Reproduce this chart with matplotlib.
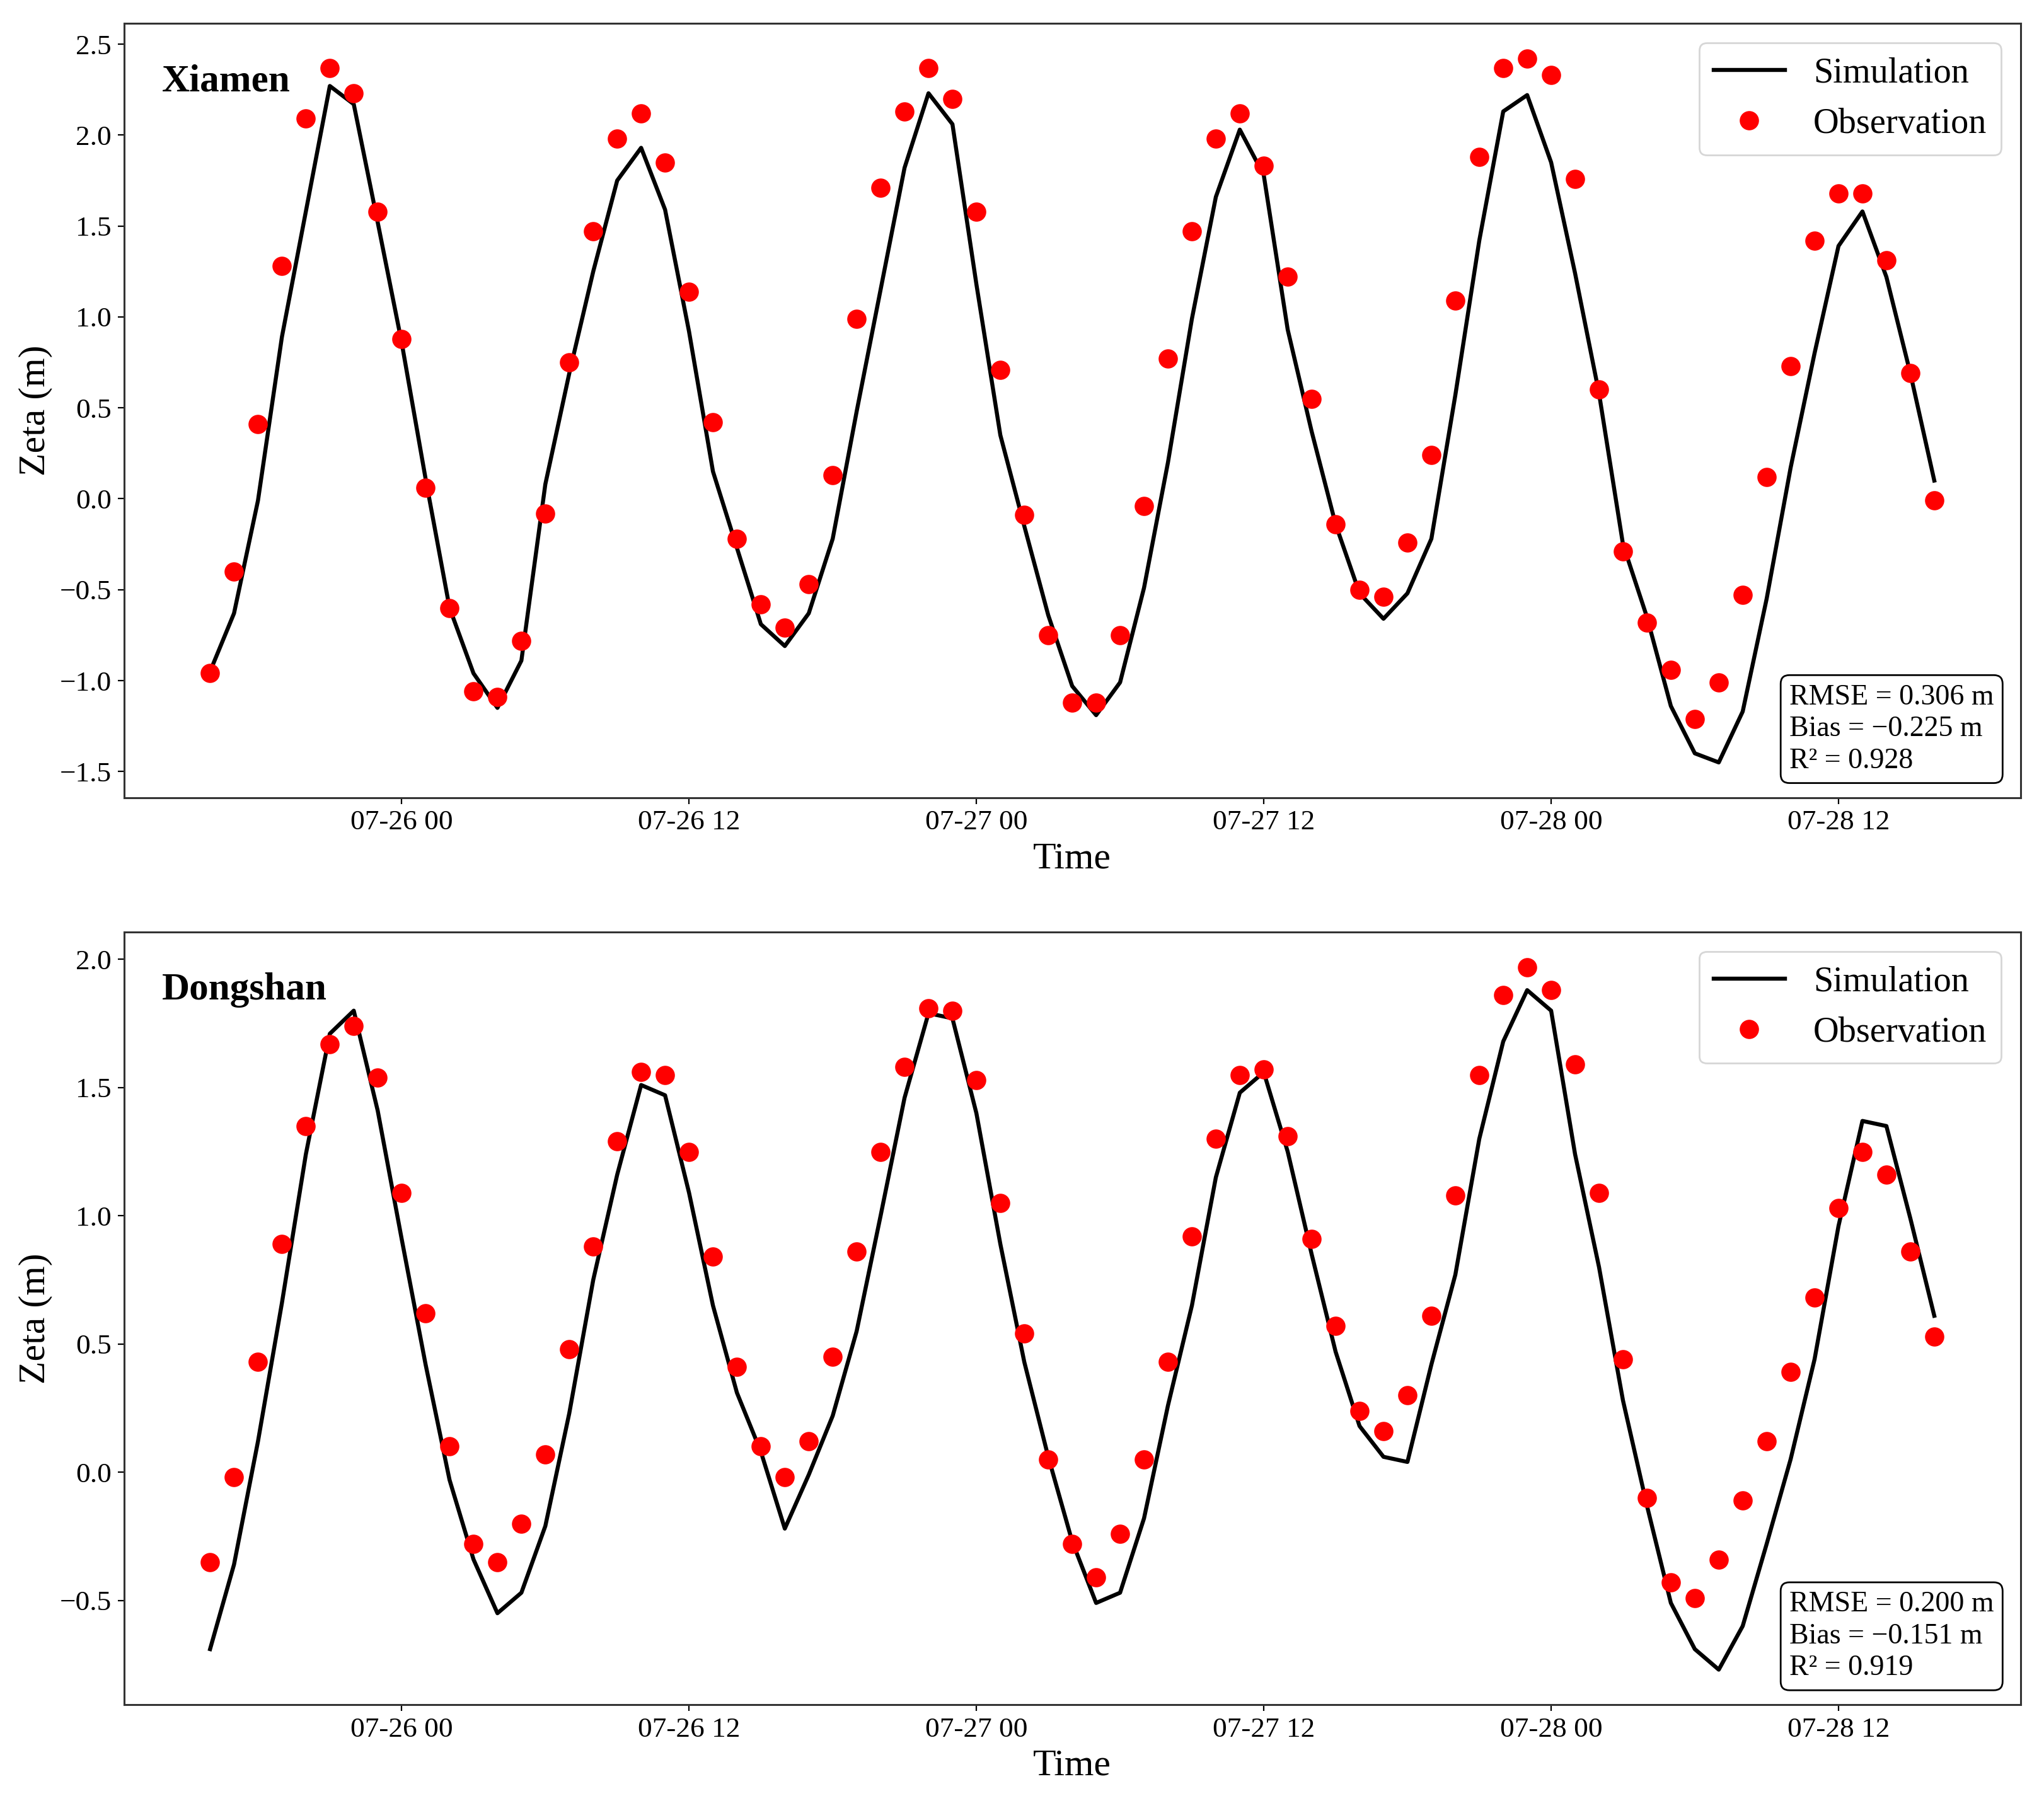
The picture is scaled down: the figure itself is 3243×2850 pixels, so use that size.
import numpy as np
import pandas as pd
import matplotlib
matplotlib.use("Agg")
import matplotlib.pyplot as plt
import matplotlib.dates as mdates

plt.rcParams['font.family'] = ['Liberation Serif', 'DejaVu Serif']
plt.rcParams['axes.unicode_minus'] = True

# ---- data ----
start_time = "2023-07-25 16:00"
n_hours = 73

xiamen_obs = [-0.96, -0.40, 0.41, 1.28, 2.09, 2.37, 2.23, 1.58, 0.88, 0.06,
              -0.60, -1.06, -1.09, -0.78, -0.08, 0.75, 1.47, 1.98, 2.12, 1.85,
              1.14, 0.42, -0.22, -0.58, -0.71, -0.47, 0.13, 0.99, 1.71, 2.13,
              2.37, 2.20, 1.58, 0.71, -0.09, -0.75, -1.12, -1.12, -0.75, -0.04,
              0.77, 1.47, 1.98, 2.12, 1.83, 1.22, 0.55, -0.14, -0.50, -0.54,
              -0.24, 0.24, 1.09, 1.88, 2.37, 2.42, 2.33, 1.76, 0.60, -0.29,
              -0.68, -0.94, -1.21, -1.01, -0.53, 0.12, 0.73, 1.42, 1.68, 1.68,
              1.31, 0.69, -0.01]
xiamen_sim = [-0.95, -0.63, -0.01, 0.89, 1.58, 2.27, 2.17, 1.52, 0.86, 0.11,
              -0.60, -0.96, -1.15, -0.89, 0.08, 0.69, 1.25, 1.75, 1.93, 1.59,
              0.92, 0.15, -0.27, -0.69, -0.81, -0.63, -0.22, 0.48, 1.15, 1.82,
              2.23, 2.06, 1.18, 0.35, -0.15, -0.64, -1.03, -1.19, -1.01, -0.49,
              0.20, 0.99, 1.66, 2.03, 1.78, 0.93, 0.37, -0.14, -0.52, -0.66,
              -0.52, -0.22, 0.57, 1.42, 2.13, 2.22, 1.85, 1.24, 0.58, -0.25,
              -0.65, -1.14, -1.40, -1.45, -1.17, -0.55, 0.17, 0.80, 1.39, 1.58,
              1.22, 0.69, 0.10]
dongshan_obs = [-0.35, -0.02, 0.43, 0.89, 1.35, 1.67, 1.74, 1.54, 1.09, 0.62,
                0.10, -0.28, -0.35, -0.20, 0.07, 0.48, 0.88, 1.29, 1.56, 1.55,
                1.25, 0.84, 0.41, 0.10, -0.02, 0.12, 0.45, 0.86, 1.25, 1.58,
                1.81, 1.80, 1.53, 1.05, 0.54, 0.05, -0.28, -0.41, -0.24, 0.05,
                0.43, 0.92, 1.30, 1.55, 1.57, 1.31, 0.91, 0.57, 0.24, 0.16,
                0.30, 0.61, 1.08, 1.55, 1.86, 1.97, 1.88, 1.59, 1.09, 0.44,
                -0.10, -0.43, -0.49, -0.34, -0.11, 0.12, 0.39, 0.68, 1.03, 1.25,
                1.16, 0.86, 0.53]
dongshan_sim = [-0.69, -0.36, 0.12, 0.66, 1.24, 1.71, 1.80, 1.41, 0.91, 0.42,
                -0.03, -0.34, -0.55, -0.47, -0.21, 0.23, 0.75, 1.16, 1.51, 1.47,
                1.09, 0.65, 0.31, 0.08, -0.22, -0.01, 0.22, 0.55, 1.00, 1.46,
                1.79, 1.77, 1.40, 0.89, 0.43, 0.06, -0.27, -0.51, -0.47, -0.18,
                0.26, 0.65, 1.15, 1.48, 1.56, 1.25, 0.85, 0.47, 0.18, 0.06,
                0.04, 0.42, 0.77, 1.30, 1.68, 1.88, 1.80, 1.24, 0.80, 0.28,
                -0.13, -0.51, -0.69, -0.77, -0.60, -0.28, 0.05, 0.44, 0.96, 1.37,
                1.35, 0.99, 0.61]

stations = ["Xiamen", "Dongshan"]
stats_text = ["RMSE = 0.306 m\nBias = \u22120.225 m\nR\u00b2 = 0.928",
              "RMSE = 0.200 m\nBias = \u22120.151 m\nR\u00b2 = 0.919"]

times = pd.date_range(start_time, periods=n_hours, freq="h")

fig = plt.figure(figsize=(16.215, 14.25), dpi=200)
positions = [[0.0606, 0.5559, 0.9279, 0.4310],
             [0.0606, 0.0508, 0.9279, 0.4303]]
sims = [xiamen_sim, dongshan_sim]
obss = [xiamen_obs, dongshan_obs]

for k in range(2):
    ax = fig.add_axes(positions[k])
    ax.plot(times, sims[k], color='black', lw=2.3, label='Simulation')
    ax.plot(times, obss[k], 'o', color='red', ms=10, label='Observation')
    ax.xaxis.set_major_locator(mdates.HourLocator(byhour=[0, 12]))
    ax.xaxis.set_major_formatter(mdates.DateFormatter('%m-%d %H'))
    ax.yaxis.set_major_locator(plt.MultipleLocator(0.5))
    ax.yaxis.set_major_formatter(matplotlib.ticker.FuncFormatter(
        lambda v, p: f"{v:.1f}".replace('-', '\u2212')))
    ax.tick_params(labelsize=16.3)
    ax.set_xlabel('Time', fontsize=21.5)
    ax.set_ylabel('Zeta (m)', fontsize=21.5)
    for s in ax.spines.values():
        s.set_linewidth(1.1)
        s.set_color('#333333')
    ax.text(0.02, 0.948, stations[k], transform=ax.transAxes, fontsize=22,
            fontweight='bold', ha='left', va='top')
    ax.legend(loc='upper right', fontsize=20.3, borderaxespad=0.55)
    ax.text(0.986, 0.03, stats_text[k], transform=ax.transAxes, fontsize=16.5,
            ha='right', va='bottom', multialignment='left', linespacing=1.25,
            bbox=dict(boxstyle='round,pad=0.3', fc='white', ec='black', lw=1.0))

fig.savefig('out.png', dpi=200)
